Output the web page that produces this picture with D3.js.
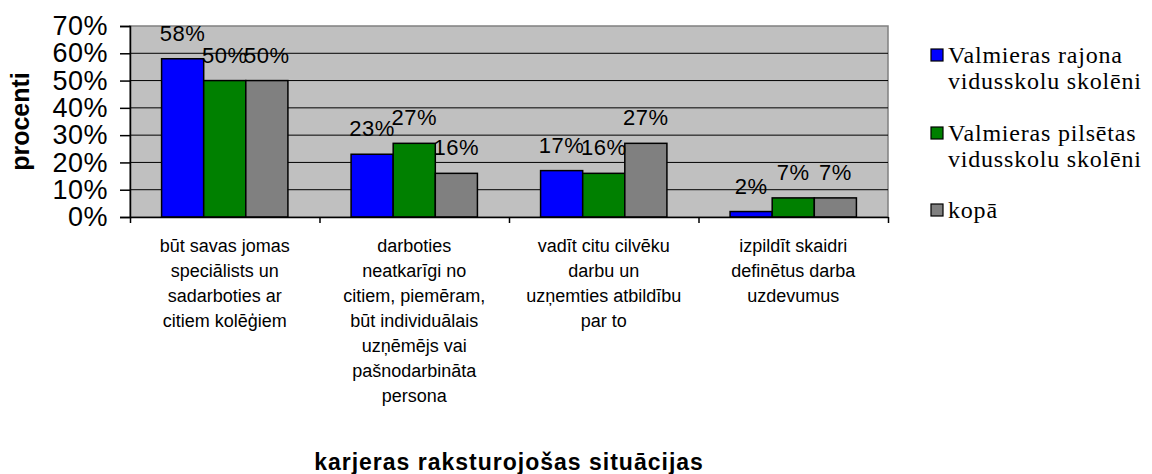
<!DOCTYPE html>
<html>
<head>
<meta charset="utf-8">
<script src="https://cdn.jsdelivr.net/npm/d3@7"></script>
<style>
  body { margin: 0; background: #fff; }
  svg { display: block; }
</style>
</head>
<body>
<script>
var categories = [
  ["būt savas jomas", "speciālists un", "sadarboties ar", "citiem kolēģiem"],
  ["darboties", "neatkarīgi no", "citiem, piemēram,", "būt individuālais", "uzņēmējs vai", "pašnodarbināta", "persona"],
  ["vadīt citu cilvēku", "darbu un", "uzņemties atbildību", "par to"],
  ["izpildīt skaidri", "definētus darba", "uzdevumus"]
];
var seriesNames = [
  ["Valmieras rajona", "vidusskolu skolēni"],
  ["Valmieras pilsētas", "vidusskolu skolēni"],
  ["kopā"]
];
var rajons = [58, 23, 17, 2];
var pilseta = [50, 27, 16, 7];
var kopa = [50, 16, 27, 7];
var yTicks = [0, 10, 20, 30, 40, 50, 60, 70];
var colors = ["#0000ff", "#008000", "#808080"];

var width = 1152, height = 474;
var plotL = 130, plotR = 888, plotT = 26, plotB = 217;

var svg = d3.select("body").append("svg").attr("width", width).attr("height", height);

var series = [rajons, pilseta, kopa];

var x0 = d3.scaleBand().domain(d3.range(categories.length)).range([plotL, plotR]).padding(0);
var x1 = d3.scaleBand().domain(d3.range(series.length)).range([0, x0.bandwidth()])
  .paddingInner(0).paddingOuter(0.75);
var y = d3.scaleLinear().domain([0, 70]).range([plotB, plotT]);

// plot background
svg.append("rect")
  .attr("x", plotL).attr("y", plotT)
  .attr("width", plotR - plotL).attr("height", plotB - plotT)
  .attr("fill", "#c0c0c0").attr("stroke", "#808080").attr("stroke-width", 1.5);

// gridlines
svg.append("g").selectAll("line")
  .data(yTicks.filter(function(d){ return d > 0 && d < 70; }))
  .enter().append("line")
  .attr("x1", plotL).attr("x2", plotR)
  .attr("y1", function(d){ return y(d); }).attr("y2", function(d){ return y(d); })
  .attr("stroke", "#000").attr("stroke-width", 1);

// bars
var groups = svg.append("g").selectAll("g")
  .data(categories)
  .enter().append("g")
  .attr("transform", function(d, i){ return "translate(" + x0(i) + ",0)"; });

function cells(d, i) {
  return series.map(function(s, j){ return {s: j, v: s[i]}; });
}

groups.selectAll("rect")
  .data(cells)
  .enter().append("rect")
  .attr("x", function(d){ return x1(d.s); })
  .attr("y", function(d){ return y(d.v); })
  .attr("width", x1.bandwidth())
  .attr("height", function(d){ return y(0) - y(d.v); })
  .attr("fill", function(d){ return colors[d.s]; })
  .attr("stroke", "#000").attr("stroke-width", 1.5);

groups.selectAll("text")
  .data(cells)
  .enter().append("text")
  .attr("x", function(d){ return x1(d.s) + x1.bandwidth() / 2; })
  .attr("y", function(d){ return y(d.v) - 18; })
  .attr("text-anchor", "middle")
  .style("font-family", "Liberation Sans, Arial, sans-serif")
  .style("font-size", "22px").style("letter-spacing", "0.5px")
  .text(function(d){ return d.v + "%"; });

// y axis
var yAxis = d3.axisLeft(y).tickValues(yTicks).tickSize(10).tickPadding(12)
  .tickFormat(function(d){ return d + "%"; });
var gy = svg.append("g").attr("transform", "translate(" + plotL + ",0)").call(yAxis);
gy.select(".domain").attr("stroke", "#000").attr("stroke-width", 1.5);
gy.selectAll(".tick line").attr("stroke", "#000").attr("stroke-width", 1.5);
gy.selectAll(".tick text")
  .style("font-family", "Liberation Sans, Arial, sans-serif")
  .style("font-size", "27px").style("letter-spacing", "0.5px").attr("fill", "#000");

// x axis
var xAxisScale = d3.scaleLinear().domain([0, categories.length]).range([plotL, plotR]);
var xAxis = d3.axisBottom(xAxisScale).tickValues(d3.range(categories.length + 1))
  .tickSize(6).tickSizeOuter(0).tickFormat("");
var gx = svg.append("g").attr("transform", "translate(0," + plotB + ")").call(xAxis);
gx.select(".domain").attr("stroke", "#000").attr("stroke-width", 1.5);
gx.selectAll(".tick line").attr("stroke", "#000").attr("stroke-width", 1.5);

// category labels
svg.append("g").selectAll("text")
  .data(categories)
  .enter().append("text")
  .attr("x", function(d, i){ return x0(i) + x0.bandwidth() / 2; })
  .attr("y", 252)
  .attr("text-anchor", "middle")
  .style("font-family", "Liberation Sans, Arial, sans-serif")
  .style("font-size", "18px")
  .selectAll("tspan")
  .data(function(d){ return d; })
  .enter().append("tspan")
  .attr("x", function(){ return this.parentNode.getAttribute("x"); })
  .attr("dy", function(d, i){ return i === 0 ? 0 : 25; })
  .text(function(d){ return d; });

// axis titles
svg.append("text")
  .attr("x", (plotL + plotR) / 2).attr("y", 470)
  .attr("text-anchor", "middle")
  .style("font-family", "Liberation Sans, Arial, sans-serif")
  .style("font-size", "23px").style("font-weight", "bold").style("letter-spacing", "1px")
  .text("karjeras raksturojošas situācijas");

svg.append("text")
  .attr("transform", "translate(29," + ((plotT + plotB) / 2) + ") rotate(-90)")
  .attr("text-anchor", "middle")
  .style("font-family", "Liberation Sans, Arial, sans-serif")
  .style("font-size", "25px").style("font-weight", "bold")
  .text("procenti");

// legend
var legendY = [55, 133, 210];
var legend = svg.append("g").selectAll("g")
  .data(seriesNames)
  .enter().append("g")
  .attr("transform", function(d, i){ return "translate(931," + legendY[i] + ")"; });
legend.append("rect")
  .attr("x", 0).attr("y", -6).attr("width", 12).attr("height", 12)
  .attr("fill", function(d, i){ return colors[i]; })
  .attr("stroke", "#000").attr("stroke-width", 1.2);
legend.append("text")
  .attr("y", 8)
  .style("font-family", "Liberation Serif, Times New Roman, serif")
  .style("font-size", "24px").style("letter-spacing", "0.8px")
  .selectAll("tspan")
  .data(function(d){ return d; })
  .enter().append("tspan")
  .attr("x", 17)
  .attr("dy", function(d, i){ return i === 0 ? 0 : 26; })
  .text(function(d){ return d; });
</script>
</body>
</html>
